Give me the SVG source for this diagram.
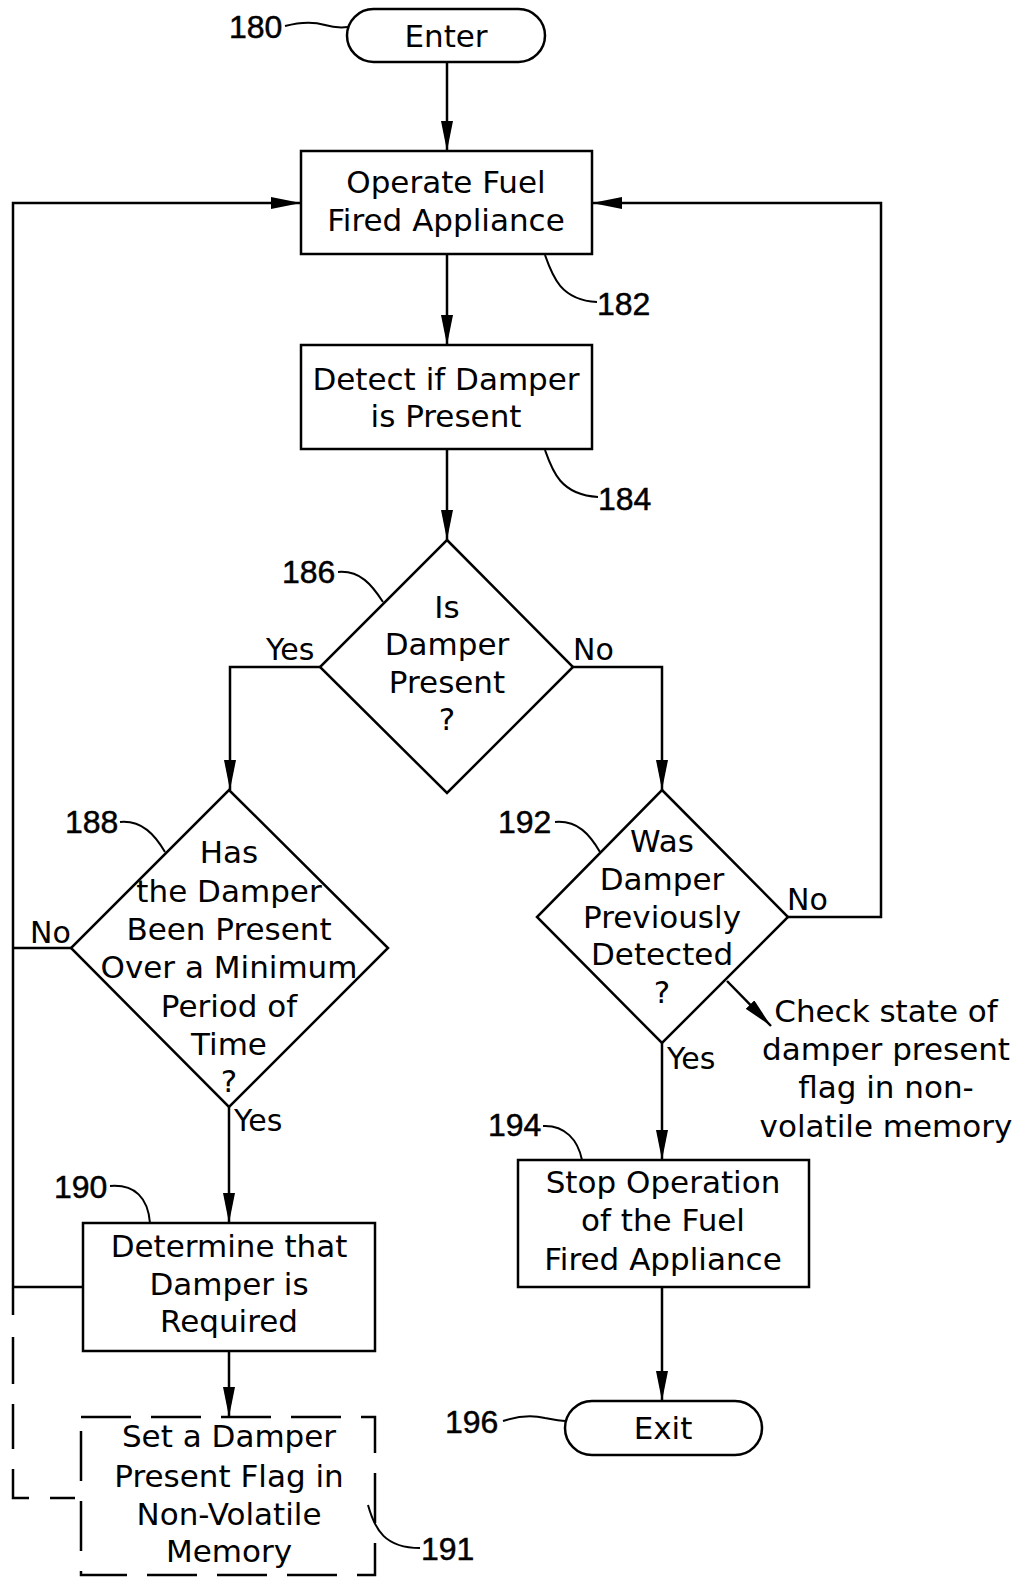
<svg xmlns="http://www.w3.org/2000/svg" width="1018" height="1577" viewBox="0 0 1018 1577">
<style>
.s{fill:none;stroke:#000;stroke-width:2.5}
.n{fill:#fff;stroke:#000;stroke-width:2.5}
.d{fill:#fff;stroke:#000;stroke-width:2.5;stroke-dasharray:50 20}
.t{font-family:"DejaVu Sans",Verdana,sans-serif;font-size:31px;text-anchor:middle;fill:#000}
.l{font-family:"DejaVu Sans",Verdana,sans-serif;font-size:30px;fill:#000}
.r{font-family:"Liberation Sans",Arial,sans-serif;font-size:32px;fill:#000;stroke:#000;stroke-width:0.5}
.ld{fill:none;stroke:#000;stroke-width:2}
</style>
<defs>
<marker id="a" markerUnits="userSpaceOnUse" markerWidth="30" markerHeight="12" refX="30" refY="6" orient="auto">
<path d="M0,0 L30,6 L0,12 Z" fill="#000"/>
</marker>
</defs>
<g id="connectors">
<path class="s" d="M447,62 V151" marker-end="url(#a)"/>
<path class="s" d="M447,254 V345" marker-end="url(#a)"/>
<path class="s" d="M447,449 V540" marker-end="url(#a)"/>
<path class="s" d="M320,667 H230 V790" marker-end="url(#a)"/>
<path class="s" d="M573,667 H662 V790" marker-end="url(#a)"/>
<path class="s" d="M229,1107 V1223" marker-end="url(#a)"/>
<path class="s" d="M229,1351 V1417" marker-end="url(#a)"/>
<path class="s" d="M71,948 H13"/>
<path class="s" d="M83,1287 H13 V203 H301" marker-end="url(#a)"/>
<path class="s" d="M788,917 H881 V203 H592" marker-end="url(#a)"/>
<path class="s" d="M662,1043 V1160" marker-end="url(#a)"/>
<path class="s" d="M662,1287 V1401" marker-end="url(#a)"/>
<path class="s" d="M727,981 L771,1026" marker-end="url(#a)"/>
<path class="s" style="stroke-dasharray:27 22 47 20 45 20 45 21 25 21 25" d="M13,1288 V1498 H81"/>
</g>
<g id="n180">
<rect class="n" x="347" y="9" width="198" height="53" rx="26.5"/>
<text class="t" x="446" y="47">Enter</text>
<path class="ld" d="M285,26 C300,22 315,22 325,25 C335,28 340,28 348,27"/>
<text class="r" x="229" y="38">180</text>
</g>
<g id="n182">
<rect class="n" x="301" y="151" width="291" height="103"/>
<text class="t" x="446" y="193">Operate Fuel</text>
<text class="t" x="446" y="231">Fired Appliance</text>
<path class="ld" d="M545,255 C552,275 560,300 597,302"/>
<text class="r" x="597" y="315">182</text>
</g>
<g id="n184">
<rect class="n" x="301" y="345" width="291" height="104"/>
<text class="t" x="446" y="390">Detect if Damper</text>
<text class="t" x="446" y="427">is Present</text>
<path class="ld" d="M545,450 C552,470 560,495 598,497"/>
<text class="r" x="598" y="510">184</text>
</g>
<g id="n186">
<path class="n" d="M447,540 L573,667 L447,793 L320,667 Z"/>
<text class="t" x="447" y="618">Is</text>
<text class="t" x="447" y="655">Damper</text>
<text class="t" x="447" y="693">Present</text>
<text class="t" x="447" y="730">?</text>
<path class="ld" d="M338,572 C360,570 372,585 383,602"/>
<text class="r" x="282" y="583">186</text>
<text class="l" x="266" y="660">Yes</text>
<text class="l" x="573" y="660">No</text>
</g>
<g id="n188">
<path class="n" d="M229,790 L388,948 L229,1107 L71,948 Z"/>
<text class="t" x="229" y="863">Has</text>
<text class="t" x="229" y="902">the Damper</text>
<text class="t" x="229" y="940">Been Present</text>
<text class="t" x="229" y="978">Over a Minimum</text>
<text class="t" x="229" y="1017">Period of</text>
<text class="t" x="229" y="1055">Time</text>
<text class="t" x="229" y="1092">?</text>
<path class="ld" d="M120,822 C142,820 155,835 165,852"/>
<text class="r" x="65" y="833">188</text>
<text class="l" x="30" y="943">No</text>
<text class="l" x="234" y="1131">Yes</text>
</g>
<g id="n190">
<rect class="n" x="83" y="1223" width="292" height="128"/>
<text class="t" x="229" y="1257">Determine that</text>
<text class="t" x="229" y="1295">Damper is</text>
<text class="t" x="229" y="1332">Required</text>
<path class="ld" d="M110,1186 C135,1184 148,1198 150,1223"/>
<text class="r" x="54" y="1198">190</text>
</g>
<g id="n191">
<rect class="d" x="81" y="1417" width="294" height="158"/>
<text class="t" x="229" y="1447">Set a Damper</text>
<text class="t" x="229" y="1487">Present Flag in</text>
<text class="t" x="229" y="1525">Non-Volatile</text>
<text class="t" x="229" y="1562">Memory</text>
<path class="ld" d="M368,1505 C375,1530 385,1548 420,1548"/>
<text class="r" x="421" y="1560">191</text>
</g>
<g id="n192">
<path class="n" d="M662,790 L788,917 L662,1043 L537,917 Z"/>
<text class="t" x="662" y="852">Was</text>
<text class="t" x="662" y="890">Damper</text>
<text class="t" x="662" y="928">Previously</text>
<text class="t" x="662" y="965">Detected</text>
<text class="t" x="662" y="1003">?</text>
<path class="ld" d="M555,822 C578,820 590,835 600,852"/>
<text class="r" x="498" y="833">192</text>
<text class="l" x="787" y="910">No</text>
<text class="l" x="667" y="1069">Yes</text>
<text class="t" x="886" y="1022">Check state of</text>
<text class="t" x="886" y="1060">damper present</text>
<text class="t" x="886" y="1098">flag in non-</text>
<text class="t" x="886" y="1137">volatile memory</text>
</g>
<g id="n194">
<rect class="n" x="518" y="1160" width="291" height="127"/>
<text class="t" x="663" y="1193">Stop Operation</text>
<text class="t" x="663" y="1231">of the Fuel</text>
<text class="t" x="663" y="1270">Fired Appliance</text>
<path class="ld" d="M543,1126 C565,1125 578,1140 582,1160"/>
<text class="r" x="488" y="1136">194</text>
</g>
<g id="n196">
<rect class="n" x="565" y="1401" width="197" height="54" rx="27"/>
<text class="t" x="663" y="1439">Exit</text>
<path class="ld" d="M503,1421 C518,1416 532,1415 545,1418 C555,1420 560,1421 566,1421"/>
<text class="r" x="445" y="1433">196</text>
</g>
</svg>
